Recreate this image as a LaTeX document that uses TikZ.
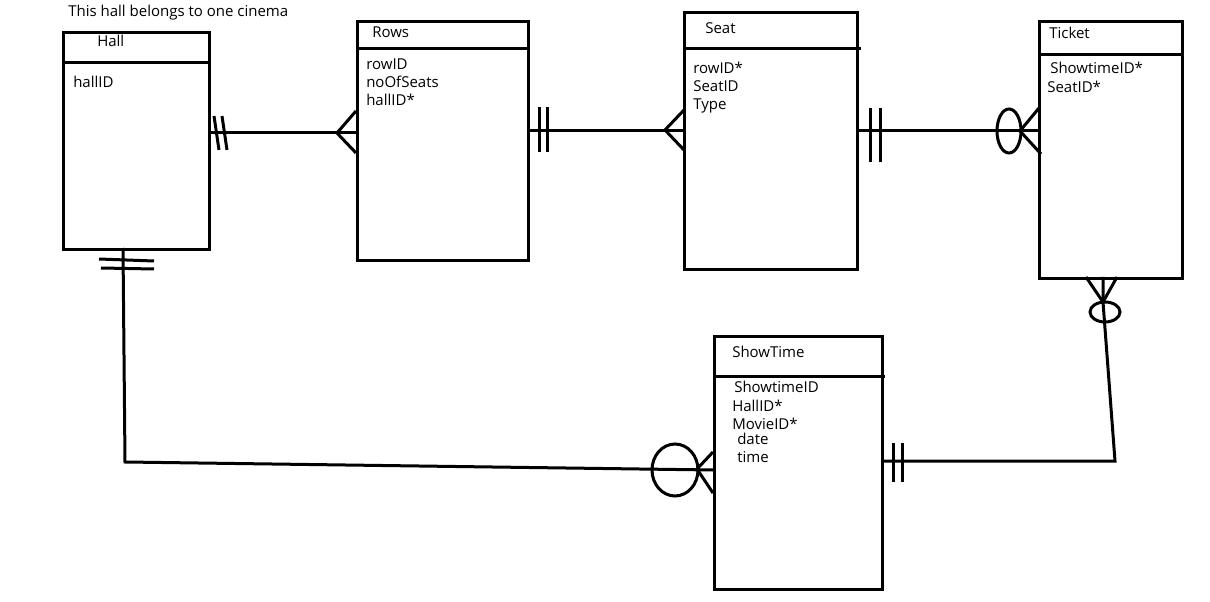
\documentclass[tikz,border=0pt]{standalone}
\usepackage{fontspec}
\setmainfont{Open Sans}
\begin{document}
\begin{tikzpicture}[x=0.75pt,y=-0.75pt,
  ent/.style={draw,line width=2.25pt,rectangle,inner sep=0pt,anchor=north west},
  lbl/.style={anchor=base west,inner sep=0pt,font=\fontsize{11.25pt}{13pt}\selectfont},
  conn/.style={line width=2.25pt,line join=miter}]
\useasboundingbox (0,0) rectangle (1210,602);
\fill[white] (0,0) rectangle (1210,602);
% entities
\node[ent,minimum width=109.5pt,minimum height=162.75pt] (hall) at (62,31) {};
\node[ent,minimum width=128.25pt,minimum height=179.25pt] (rows) at (356,20) {};
\node[ent,minimum width=129.75pt,minimum height=192.75pt] (seat) at (683,11) {};
\node[ent,minimum width=107.25pt,minimum height=192.75pt] (ticket) at (1038,20) {};
\node[ent,minimum width=126pt,minimum height=189.75pt] (show) at (713,335) {};
% header lines
\draw[conn] (hall.west |- 0,63) -- (hall.east |- 0,63);
\draw[conn] (rows.west |- 0,49) -- (rows.east |- 0,49);
\draw[conn] (seat.west |- 0,49) -- (861,49);
\draw[conn] (ticket.west |- 0,55) -- (ticket.east |- 0,55);
\draw[conn] (show.west |- 0,376) -- (885,376);
% texts
\node[lbl] (cap) at (68,17) {This hall belongs to one cinema};
\node[lbl] (hallT) at (97,47) {Hall};
\node[lbl] (hallA) at (73,88) {hallID};
\node[lbl] (rowsT) at (372,38) {Rows};
\node[lbl] (rowsA) at (366,70) {rowID};
\node[lbl] (rowsB) at (366,88) {noOfSeats};
\node[lbl] (rowsC) at (366,106) {hallID*};
\node[lbl] (seatT) at (705,34) {Seat};
\node[lbl] (seatA) at (693,74) {rowID*};
\node[lbl] (seatB) at (693,92) {SeatID};
\node[lbl] (seatC) at (693,110) {Type};
\node[lbl] (ticketT) at (1049,39) {Ticket};
\node[lbl] (ticketA) at (1050,74) {ShowtimeID*};
\node[lbl] (ticketB) at (1047,93) {SeatID*};
\node[lbl] (showT) at (732,357) {ShowTime};
\node[lbl] (showA) at (734,392) {ShowtimeID};
\node[lbl] (showB) at (732,411) {HallID*};
\node[lbl] (showC) at (732,429) {MovieID*};
\node[lbl] (showD) at (737,444) {date};
\node[lbl] (showE) at (737,462) {time};
% Hall - Rows
\draw[conn] (hall.east |- 0,133) -- (rows.west |- 0,133);
\draw[conn] (214,116) -- (219,150);
\draw[conn] (222,116) -- (227,150);
\draw[conn] (rows.west |- 0,111) -- (337,133) -- (rows.west |- 0,153);
% Rows - Seat
\draw[conn] (rows.east |- 0,131) -- (seat.west |- 0,131);
\draw[conn] (539,107) -- (539,152);
\draw[conn] (547,107) -- (547,152);
\draw[conn] (684,110) -- (665,130) -- (684,150);
% Seat - Ticket
\draw[conn] (seat.east |- 0,131) -- (ticket.west |- 0,131);
\draw[conn] (870,108) -- (870,162);
\draw[conn] (880,108) -- (880,162);
\draw[conn] (1009,131) ellipse [x radius=9pt,y radius=16.5pt];
\draw[conn] (1039,108) -- (1020,131) -- (1041,154);
% Ticket - ShowTime
\coordinate (tk1) at (1103,302);
\coordinate (tk2) at (1115,461);
\draw[conn] (1086,277) -- (tk1) -- (1117,277);
\draw[conn] (1103,277) -- (tk1) -- (tk2) -- (show.east |- tk2);
\draw[conn] (1105,312) ellipse [x radius=11.25pt,y radius=7.5pt];
\draw[conn] (893,443) -- (893,482);
\draw[conn] (902,443) -- (902,482);
% Hall - ShowTime
\coordinate (hs1) at (125,462);
\draw[conn] (123,248) -- (hs1) -- (show.west |- 0,470);
\draw[conn] (99,259) -- (154,261);
\draw[conn] (101,268) -- (154,269);
\draw[conn] (675,470) ellipse [x radius=17.25pt,y radius=19.5pt];
\draw[conn] (show.west |- 0,452) -- (697,469) -- (show.west |- 0,493);
\end{tikzpicture}
\end{document}
